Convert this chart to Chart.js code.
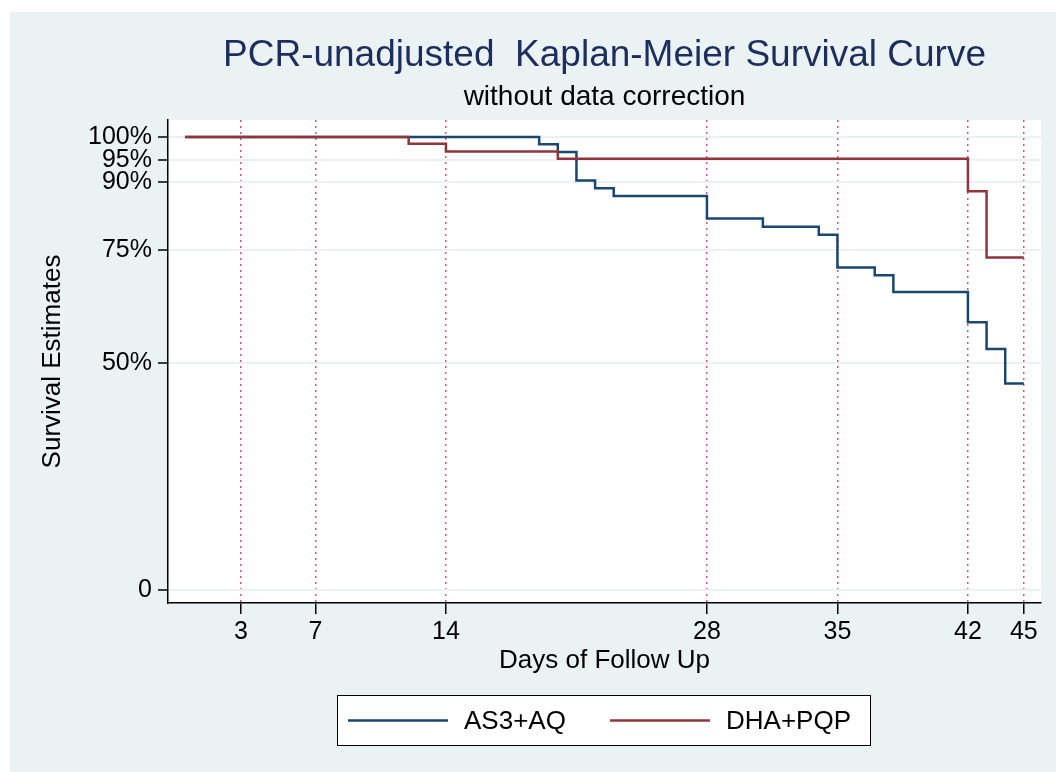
<!DOCTYPE html>
<html>
<head>
<meta charset="utf-8">
<script src="https://cdn.jsdelivr.net/npm/chart.js@4.4.1/dist/chart.umd.min.js"></script>
<style>
  html, body { margin: 0; padding: 0; background: #fff; }
  #wrap { width: 1056px; height: 772px; position: relative; }
</style>
</head>
<body>
<div id="wrap"><canvas id="km" width="1056" height="772"></canvas></div>
<script>
// Kaplan-Meier step data (days, survival %)
const asDays = [0, 19, 20, 21, 22, 23, 28, 31, 34, 35, 37, 38, 42, 43, 44, 45]
const asSurv = [100, 98.4, 96.7, 90.4, 88.7, 87.0, 82.0, 80.2, 78.4, 71.2, 69.5, 65.8, 59.1, 53.2, 45.6, 45.6]

const dhaDays = [0, 12, 14, 20, 42, 43, 45]
const dhaSurv = [100, 98.5, 96.8, 95.2, 88.0, 73.4, 73.4]

const seriesLabels = ['AS3+AQ', 'DHA+PQP']
const seriesColors = ['#1A476F', '#90353B']

const xTicks = [3, 7, 14, 28, 35, 42, 45]
const yTicks = [0, 50, 75, 90, 95, 100]
const yTickLabels = ['0', '50%', '75%', '90%', '95%', '100%']

const titleText = 'PCR-unadjusted  Kaplan-Meier Survival Curve'
const subtitleText = 'without data correction'
const xTitle = 'Days of Follow Up'
const yTitle = 'Survival Estimates'

const FONT = '"Liberation Sans", Arial, sans-serif'
const BG = '#EAF2F3'

const toPoints = (xs, ys) => xs.map((x, i) => ({ x: x, y: ys[i] }))

// panel background + white plot region
const backdrop = {
  id: 'backdrop',
  beforeDraw(chart) {
    const { ctx, chartArea: a } = chart
    ctx.save()
    ctx.fillStyle = '#fff'
    ctx.fillRect(0, 0, chart.width, chart.height)
    ctx.fillStyle = BG
    ctx.fillRect(10, 12, chart.width - 10, chart.height - 12)
    ctx.fillStyle = '#fff'
    ctx.fillRect(a.left, a.top, a.right - a.left, a.bottom - a.top)
    ctx.restore()
  }
}

// titles, axis titles and boxed legend
const annotations = {
  id: 'annotations',
  afterDraw(chart) {
    const { ctx, chartArea: a } = chart
    const cx = (a.left + a.right) / 2
    ctx.save()
    ctx.textAlign = 'center'
    ctx.textBaseline = 'middle'

    ctx.fillStyle = '#1E2E5C'
    ctx.font = '37px ' + FONT
    ctx.fillText(titleText, cx, 56)
    ctx.fillStyle = '#000'
    ctx.font = '28px ' + FONT
    ctx.fillText(subtitleText, cx, 97)

    ctx.font = '26px ' + FONT
    ctx.fillText(xTitle, cx, 661)
    ctx.save()
    ctx.translate(53, (a.top + a.bottom) / 2)
    ctx.rotate(-Math.PI / 2)
    ctx.fillText(yTitle, 0, 0)
    ctx.restore()

    // legend box
    const box = { l: 337, t: 695, r: 871, b: 746 }
    ctx.fillStyle = '#fff'
    ctx.fillRect(box.l, box.t, box.r - box.l, box.b - box.t)
    ctx.strokeStyle = '#000'
    ctx.lineWidth = 1
    ctx.strokeRect(box.l + 0.5, box.t + 0.5, box.r - box.l - 1, box.b - box.t - 1)
    const ly = (box.t + box.b) / 2
    const entries = [{ x: 348 }, { x: 610 }]
    chart.data.datasets.forEach((ds, i) => {
      const x0 = entries[i].x
      ctx.strokeStyle = ds.borderColor
      ctx.lineWidth = 2.5
      ctx.beginPath()
      ctx.moveTo(x0, ly)
      ctx.lineTo(x0 + 100, ly)
      ctx.stroke()
      ctx.fillStyle = '#000'
      ctx.textAlign = 'left'
      ctx.font = '26px ' + FONT
      ctx.fillText(ds.label, x0 + 116, ly + 1)
    })
    ctx.restore()
  }
}

new Chart(document.getElementById('km'), {
  type: 'line',
  data: {
    datasets: [
      {
        label: seriesLabels[0],
        data: toPoints(asDays, asSurv),
        borderColor: seriesColors[0],
        borderWidth: 2.5,
        stepped: 'before',
        pointRadius: 0,
        fill: false,
        order: 1
      },
      {
        label: seriesLabels[1],
        data: toPoints(dhaDays, dhaSurv),
        borderColor: seriesColors[1],
        borderWidth: 2.5,
        stepped: 'before',
        pointRadius: 0,
        fill: false,
        order: 0
      }
    ]
  },
  options: {
    responsive: false,
    animation: false,
    devicePixelRatio: 1,
    layout: { padding: { left: 20, top: 120, right: 15, bottom: 109 } },
    plugins: {
      legend: { display: false },
      title: { display: false },
      tooltip: { enabled: false }
    },
    scales: {
      x: {
        type: 'linear',
        min: -0.91,
        max: 45.92,
        afterFit(scale) { scale.height = 60 },
        afterBuildTicks(scale) { scale.ticks = xTicks.map(v => ({ value: v })) },
        ticks: {
          autoSkip: false,
          maxRotation: 0,
          padding: 3,
          color: '#000',
          font: { family: FONT, size: 25 },
          callback: v => String(v)
        },
        grid: {
          color: 'rgba(205, 40, 85, 0.8)',
          lineWidth: 1.5,
          tickColor: '#000',
          tickLength: 11,
          tickWidth: 1.5,
          tickBorderDash: []
        },
        border: { display: true, color: '#000', width: 1.5, dash: [2, 4] }
      },
      y: {
        type: 'linear',
        min: -2.87,
        max: 103.75,
        afterFit(scale) { scale.width = 148 },
        afterBuildTicks(scale) { scale.ticks = yTicks.map(v => ({ value: v })) },
        ticks: {
          autoSkip: false,
          padding: 6,
          color: '#000',
          font: { family: FONT, size: 25 },
          callback: v => yTickLabels[yTicks.indexOf(v)]
        },
        grid: {
          color: BG,
          lineWidth: 2,
          tickColor: '#000',
          tickLength: 10,
          tickWidth: 1.5
        },
        border: { display: true, color: '#000', width: 1.5 }
      }
    }
  },
  plugins: [backdrop, annotations]
})
</script>
</body>
</html>
